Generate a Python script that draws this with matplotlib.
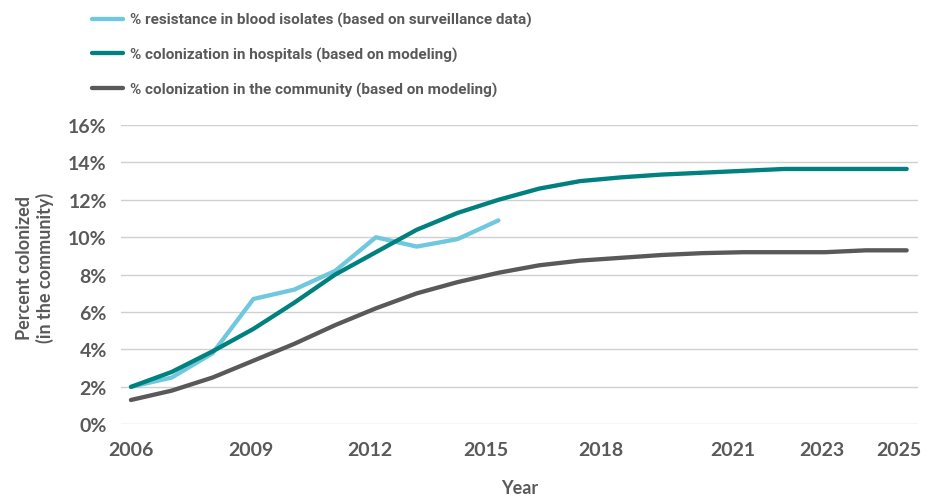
import matplotlib
matplotlib.use("Agg")
import matplotlib.pyplot as plt
from matplotlib.ticker import FuncFormatter

plt.rcParams['font.family'] = ['Lato', 'DejaVu Sans']
plt.rcParams['font.weight'] = 'bold'

# data (percent), one value per year
years = list(range(2006, 2026))
blood_years = list(range(2006, 2016))
blood = [2.0, 2.5, 3.8, 6.7, 7.2, 8.2, 10.0, 9.5, 9.9, 10.9]
hospital = [2.0, 2.8, 3.9, 5.1, 6.5, 8.0, 9.2, 10.4, 11.3, 12.0,
            12.6, 13.0, 13.2, 13.35, 13.45, 13.55, 13.65, 13.65, 13.65, 13.65]
community = [1.3, 1.8, 2.5, 3.4, 4.3, 5.3, 6.2, 7.0, 7.6, 8.1,
             8.5, 8.75, 8.9, 9.05, 9.15, 9.2, 9.2, 9.2, 9.3, 9.3]
tick_labels = ['2006', '2009', '2012', '2015', '2018', '2021', '2023', '2025']

txt = '#595959'
fig = plt.figure(figsize=(9.33, 5.02), dpi=100)
ax = fig.add_axes([0.1294, 0.1528, 0.8542, 0.5962])

l1, = ax.plot(blood_years, blood, color='#6fc8dd', lw=3.1, solid_capstyle='round',
              label='% resistance in blood isolates (based on surveillance data)')
l2, = ax.plot(years, hospital, color='#00807f', lw=3.1, solid_capstyle='round',
              label='% colonization in hospitals (based on modeling)')
l3, = ax.plot(years, community, color='#595959', lw=3.1, solid_capstyle='round',
              label='% colonization in the community (based on modeling)')

ax.set_xlim(2005.75, 2025.27)
ax.set_ylim(0, 16)
ax.set_yticks(range(0, 17, 2))
ax.yaxis.set_major_formatter(FuncFormatter(lambda v, p: '%d%%' % v))
# label positions as they sit in the original (slightly left of the data years)
ax.set_xticks([2006, 2008.93, 2011.85, 2014.69, 2017.51, 2020.75, 2022.92, 2024.8])
ax.set_xticklabels(tick_labels)
ax.tick_params(length=0, labelsize=14, labelcolor=txt)
ax.tick_params(axis='x', pad=12)
ax.tick_params(axis='y', pad=10)
ax.grid(axis='y', color='#d0d0d0', lw=1)
ax.set_axisbelow(True)
for s in ax.spines.values():
    s.set_visible(False)

fig.text(0.557, 0.026, 'Year', ha='center', va='center', fontsize=13, color=txt,
         fontweight='bold')
fig.text(0.0375, 0.466, 'Percent colonized\n(in the community)', ha='center', va='center',
         rotation=90, fontsize=13, color=txt, fontweight='bold', linespacing=1.25)

leg = fig.legend(handles=[l1, l2, l3], loc='upper left', bbox_to_anchor=(0.0924, 0.986),
                 frameon=False, handlelength=2.0, handletextpad=0.45,
                 labelspacing=1.3, borderaxespad=0,
                 prop={'family': 'Roboto', 'stretch': 'condensed', 'weight': 'bold',
                       'size': 11})
for t in leg.get_texts():
    t.set_color(txt)

fig.savefig('out.png', dpi=100)
